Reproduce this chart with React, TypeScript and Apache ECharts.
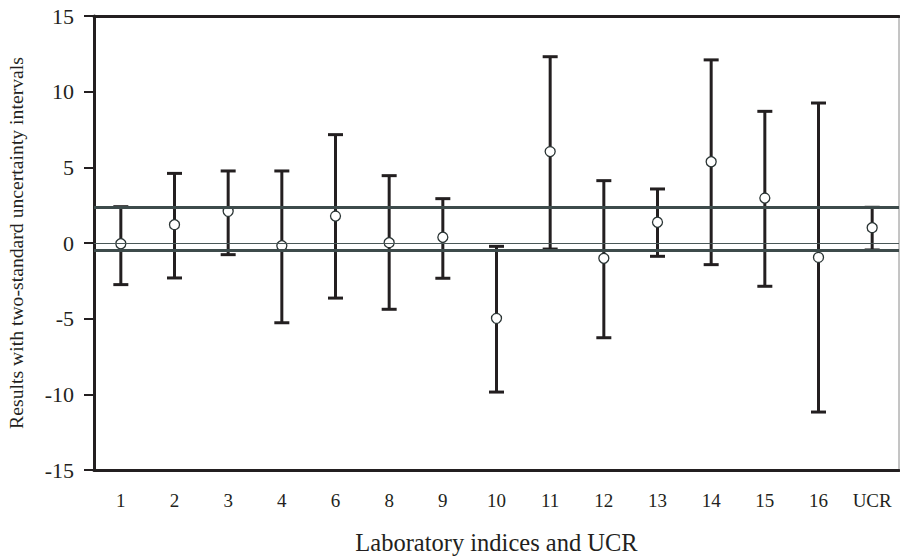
import React, { useEffect, useRef } from "react";
import * as echarts from "echarts";

const categories = ["1", "2", "3", "4", "6", "8", "9", "10", "11", "12", "13", "14", "15", "16", "UCR"];
const results = [-0.05, 1.21, 2.09, -0.18, 1.78, 0.02, 0.38, -4.98, 6.04, -1.01, 1.37, 5.37, 2.97, -0.95, 1.01];
const upperLimits = [2.4, 4.6, 4.76, 4.76, 7.16, 4.45, 2.93, -0.22, 12.31, 4.12, 3.57, 12.1, 8.7, 9.25, 2.36];
const lowerLimits = [-2.75, -2.31, -0.77, -5.27, -3.64, -4.38, -2.33, -9.85, -0.4, -6.26, -0.88, -1.43, -2.86, -11.17, -0.46];
const ucrBand = [2.36, -0.46];
const yTicks = { min: -15, max: 15, interval: 5 };

const FONT = "Liberation Serif, Times New Roman, Times, serif";
const INK = "#231f20";

export default function App() {
  const ref = useRef<HTMLDivElement>(null);
  useEffect(() => {
    if (!ref.current) return;
    const chart = echarts.init(ref.current, undefined, { renderer: "svg" });
    const errData = categories.map((_, i) => [i, lowerLimits[i], upperLimits[i]]);
    chart.setOption({
      animation: false,
      backgroundColor: "#ffffff",
      textStyle: { fontFamily: FONT, color: INK },
      grid: {
        left: 94, right: 1, top: 16, bottom: 90,
        containLabel: false, outerBoundsMode: "none",
        show: true, borderColor: "#8a8a8a", borderWidth: 1,
      },
      xAxis: [
        {
          type: "category",
          data: categories,
          position: "bottom",
          axisLine: { onZero: false, lineStyle: { color: INK, width: 3 } },
          axisTick: { show: false },
          axisLabel: { color: INK, fontFamily: FONT, fontSize: 19, margin: 21 },
          name: "Laboratory indices and UCR",
          nameLocation: "middle",
          nameGap: 60,
          nameTextStyle: { color: INK, fontFamily: FONT, fontSize: 24.5 },
        },
        {
          type: "category",
          data: categories,
          position: "top",
          axisLine: { onZero: false, lineStyle: { color: INK, width: 3 } },
          axisTick: { show: false },
          axisLabel: { show: false },
        },
      ],
      yAxis: {
        type: "value",
        min: yTicks.min,
        max: yTicks.max,
        interval: yTicks.interval,
        axisLine: { show: true, onZero: false, lineStyle: { color: INK, width: 3 } },
        axisTick: { show: true, length: 10, lineStyle: { color: INK, width: 2 } },
        splitLine: { show: false },
        axisLabel: {
          color: INK,
          fontFamily: FONT,
          fontSize: 22,
          margin: 20,
          formatter: (v: number) => "{t|" + String(v) + "}",
          rich: { t: { fontFamily: FONT, fontSize: 22, color: INK } },
        },
        name: "Results with two-standard uncertainty intervals",
        nameLocation: "middle",
        nameGap: 68,
        nameTextStyle: { color: INK, fontFamily: FONT, fontSize: 19.7 },
      },
      series: [
        {
          type: "custom",
          z: 2,
          silent: true,
          data: errData,
          renderItem: (params: any, api: any) => {
            const idx = api.value(0);
            const hi = api.coord([idx, api.value(2)]);
            const lo = api.coord([idx, api.value(1)]);
            const hw = 7.5;
            const st = { stroke: INK, lineWidth: 3 };
            return {
              type: "group",
              children: [
                { type: "line", shape: { x1: hi[0], y1: hi[1], x2: lo[0], y2: lo[1] }, style: st },
                { type: "line", shape: { x1: hi[0] - hw, y1: hi[1], x2: hi[0] + hw, y2: hi[1] }, style: st },
                { type: "line", shape: { x1: lo[0] - hw, y1: lo[1], x2: lo[0] + hw, y2: lo[1] }, style: st },
              ],
            };
          },
        },
        {
          type: "line",
          z: 3,
          data: [],
          silent: true,
          markLine: {
            silent: true,
            symbol: "none",
            label: { show: false },
            data: [
              { yAxis: ucrBand[0], lineStyle: { color: "#3d4b4b", width: 3, type: "solid" } },
              { yAxis: ucrBand[1], lineStyle: { color: "#3d4b4b", width: 3, type: "solid" } },
              { yAxis: 0, lineStyle: { color: "#4a5858", width: 1, type: "solid" } },
            ],
          },
        },
        {
          type: "scatter",
          z: 4,
          silent: true,
          data: results,
          symbol: "circle",
          symbolSize: 10,
          itemStyle: { color: "#ffffff", borderColor: "#2a3434", borderWidth: 1.3, opacity: 1 },
        },
      ],
    });
    return () => chart.dispose();
  }, []);
  return <div ref={ref} style={{ width: 900, height: 560, position: "absolute", left: 0, top: 0 }} />;
}
